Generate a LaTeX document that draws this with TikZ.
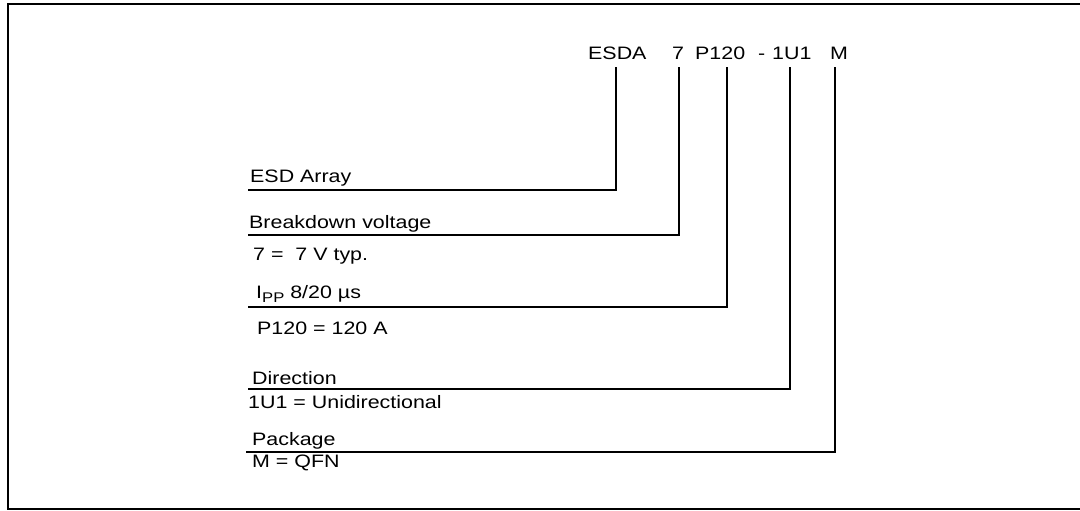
\documentclass[tikz,border=0pt]{standalone}
\usepackage{fontspec}
\setmainfont[FakeStretch=1.19]{Liberation Sans}
\begin{document}
\begin{tikzpicture}[x=1pt,y=-1pt,
  lbl/.style={anchor=base west,inner sep=0pt,font=\fontsize{18}{20}\selectfont},
  lead/.style={line width=2.4pt,line cap=rect,line join=miter},
  frame/.style={line width=2.6pt}]
\useasboundingbox (0,0) rectangle (1080,511);
\draw[frame] (1095,4) -- (8,4) -- (8,509) -- (1095,509);
% top part number
\node[lbl] (tE) at (588,60) {ESDA};
\node[lbl] (t7) at (672,60) {7};
\node[lbl] (tP) at (695,60) {P120};
\node[lbl] (td) at (758,60) {-};
\node[lbl] (tU) at (772,60) {1U1};
\node[lbl] (tM) at (830,60) {M};
% line tops
\coordinate (cE) at (616,68);
\coordinate (c7) at (679,68);
\coordinate (cP) at (727,68);
\coordinate (cU) at (790,68);
\coordinate (cM) at (835,68);
% line ends
\coordinate (eE) at (249,190);
\coordinate (e7) at (249,235);
\coordinate (eP) at (249,307);
\coordinate (eU) at (249,389);
\coordinate (eM) at (247,452);
\draw[lead] (cE) |- (eE);
\draw[lead] (c7) |- (e7);
\draw[lead] (cP) |- (eP);
\draw[lead] (cU) |- (eU);
\draw[lead] (cM) |- (eM);
% labels
\node[lbl] (lE) at (250,182) {ESD Array};
\node[lbl] (lB) at (249,228) {Breakdown voltage};
\node[lbl] (l7) at (253,260) {7 =\ \ 7 V typ.};
\node[lbl] (lI) at (256,298) {I\raisebox{-4.5pt}{\fontsize{14}{15}\selectfont PP} 8/20 µs};
\node[lbl] (lP) at (257,334) {P120 = 120 A};
\node[lbl] (lD) at (252,384) {Direction};
\node[lbl] (lU) at (248,408) {1U1 = Unidirectional};
\node[lbl] (lK) at (252,445) {Package};
\node[lbl] (lM) at (252,467) {M = QFN};
\end{tikzpicture}
\end{document}
